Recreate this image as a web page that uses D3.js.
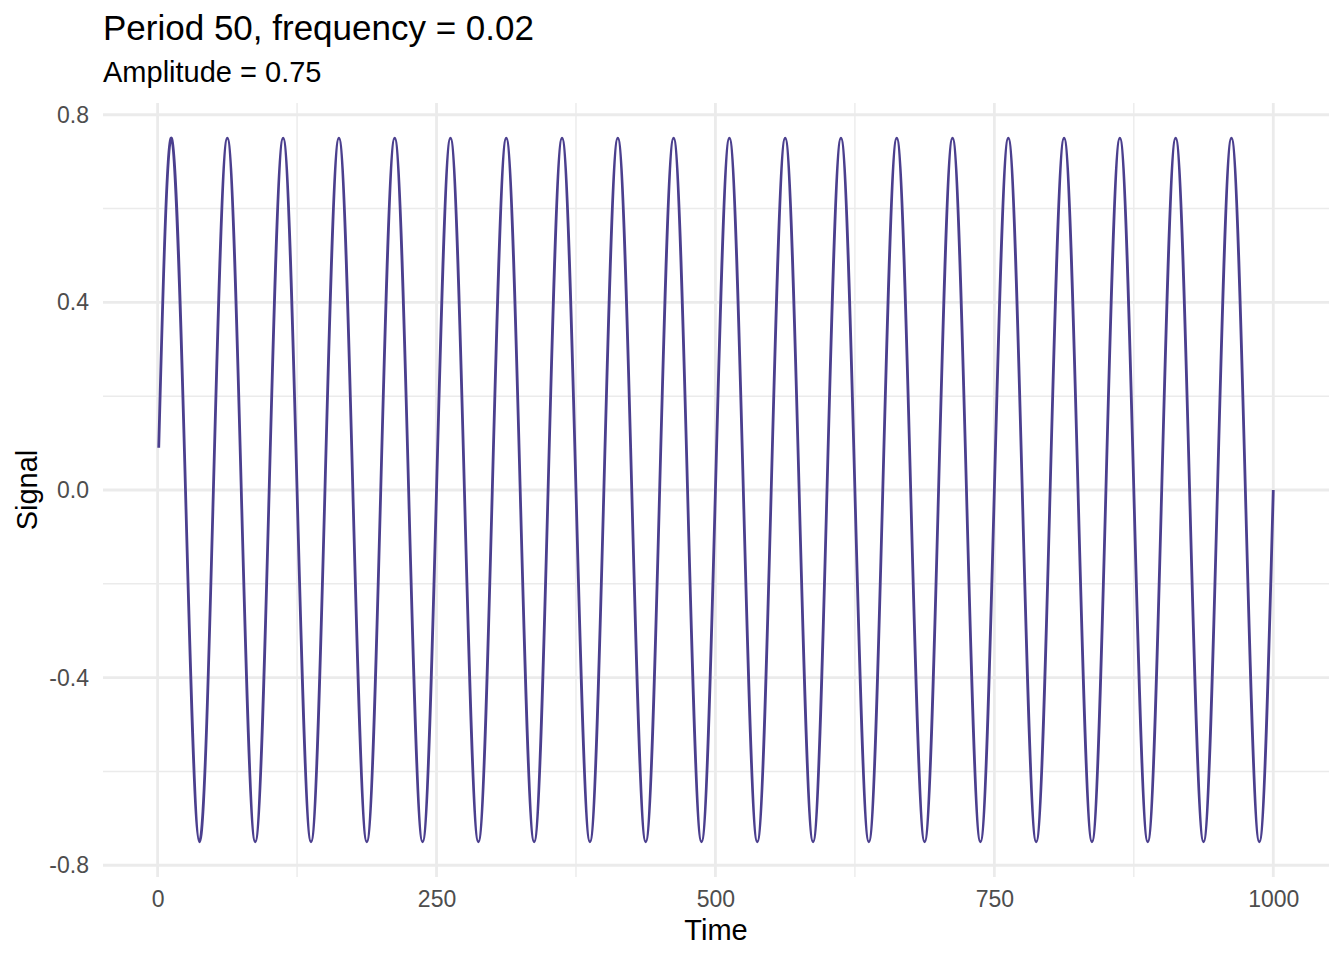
<!DOCTYPE html>
<html><head><meta charset="utf-8">
<script src="https://cdn.jsdelivr.net/npm/d3@7"></script>
<style>body{margin:0;background:#fff}svg{display:block;font-family:"Liberation Sans",Arial,sans-serif}</style>
</head><body><svg id="c" width="1344" height="960"></svg>
<script>
// Key points (start, then every quarter period: peaks, zero crossings, troughs)
const time = [1,
 12.5,25,37.5,50, 62.5,75,87.5,100, 112.5,125,137.5,150, 162.5,175,187.5,200,
 212.5,225,237.5,250, 262.5,275,287.5,300, 312.5,325,337.5,350, 362.5,375,387.5,400,
 412.5,425,437.5,450, 462.5,475,487.5,500, 512.5,525,537.5,550, 562.5,575,587.5,600,
 612.5,625,637.5,650, 662.5,675,687.5,700, 712.5,725,737.5,750, 762.5,775,787.5,800,
 812.5,825,837.5,850, 862.5,875,887.5,900, 912.5,925,937.5,950, 962.5,975,987.5,1000];
const signal = [0.09,
 0.75,0,-0.75,0, 0.75,0,-0.75,0, 0.75,0,-0.75,0, 0.75,0,-0.75,0,
 0.75,0,-0.75,0, 0.75,0,-0.75,0, 0.75,0,-0.75,0, 0.75,0,-0.75,0,
 0.75,0,-0.75,0, 0.75,0,-0.75,0, 0.75,0,-0.75,0, 0.75,0,-0.75,0,
 0.75,0,-0.75,0, 0.75,0,-0.75,0, 0.75,0,-0.75,0, 0.75,0,-0.75,0,
 0.75,0,-0.75,0, 0.75,0,-0.75,0, 0.75,0,-0.75,0, 0.75,0,-0.75,0];
const xTicks = [0, 250, 500, 750, 1000];
const xMinor = [125, 375, 625, 875];
const yTicks = [-0.8, -0.4, 0.0, 0.4, 0.8];
const yMinor = [-0.6, -0.2, 0.2, 0.6];
const titleText = "Period 50, frequency = 0.02";
const subtitleText = "Amplitude = 0.75";
const xLabel = "Time", yLabel = "Signal";

const data = time.map((t, i) => ({t, v: signal[i]}));
const svg = d3.select("#c");
const panel = {l: 103, r: 1329, t: 103, b: 877};
const x = d3.scaleLinear().domain([-48.95, 1049.95]).range([panel.l, panel.r]);
const y = d3.scaleLinear().domain([-0.825, 0.825]).range([panel.b, panel.t]);

const g = svg.append("g");
g.selectAll(".xm").data(xMinor).join("line")
 .attr("x1", d => x(d)).attr("x2", d => x(d)).attr("y1", panel.t).attr("y2", panel.b)
 .attr("stroke", "#EBEBEB").attr("stroke-width", 1.4);
g.selectAll(".ym").data(yMinor).join("line")
 .attr("y1", d => y(d)).attr("y2", d => y(d)).attr("x1", panel.l).attr("x2", panel.r)
 .attr("stroke", "#EBEBEB").attr("stroke-width", 1.4);
g.selectAll(".xg").data(xTicks).join("line")
 .attr("x1", d => x(d)).attr("x2", d => x(d)).attr("y1", panel.t).attr("y2", panel.b)
 .attr("stroke", "#EBEBEB").attr("stroke-width", 2.8);
g.selectAll(".yg").data(yTicks).join("line")
 .attr("y1", d => y(d)).attr("y2", d => y(d)).attr("x1", panel.l).attr("x2", panel.r)
 .attr("stroke", "#EBEBEB").attr("stroke-width", 2.8);

svg.append("path").datum(data)
 .attr("fill", "none").attr("stroke", "#4B3F8E").attr("stroke-width", 2.8)
 .attr("d", d3.line().x(d => x(d.t)).y(d => y(d.v)).curve(d3.curveNatural));

// axes (ticks hidden, labels only)
const xa = svg.append("g").attr("transform", `translate(0,${panel.b})`)
 .call(d3.axisBottom(x).tickValues(xTicks).tickSize(0).tickPadding(14).tickFormat(d3.format("d")));
const ya = svg.append("g").attr("transform", `translate(${panel.l},0)`)
 .call(d3.axisLeft(y).tickValues(yTicks).tickSize(0).tickPadding(14).tickFormat(d => d3.format(".1f")(d).replace("−", "-")));
[xa, ya].forEach(a => {
  a.select(".domain").remove();
  a.selectAll("text").attr("fill", "#4D4D4D").attr("font-size", 23)
   .attr("font-family", '"Liberation Sans",Arial,sans-serif');
});
xa.selectAll("text").attr("dy", "0.71em");

svg.append("text").attr("x", 103).attr("y", 40).attr("font-size", 35).attr("fill", "#000").text(titleText);
svg.append("text").attr("x", 103).attr("y", 82).attr("font-size", 29).attr("fill", "#000").text(subtitleText);
svg.append("text").attr("x", (panel.l + panel.r) / 2).attr("y", 940).attr("text-anchor", "middle")
 .attr("font-size", 29).attr("fill", "#000").text(xLabel);
svg.append("text").attr("transform", `translate(37,${(panel.t + panel.b) / 2}) rotate(-90)`)
 .attr("text-anchor", "middle").attr("font-size", 29).attr("fill", "#000").text(yLabel);
</script></body></html>
